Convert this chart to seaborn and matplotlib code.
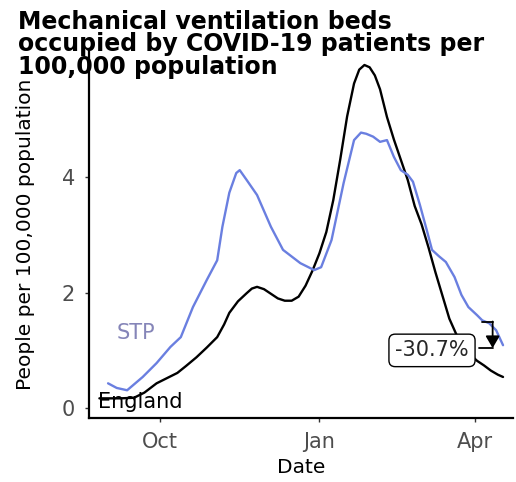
import pandas as pd
import matplotlib.pyplot as plt
import matplotlib.dates as mdates
import seaborn as sns

# England, people on mechanical ventilation per 100k
eng_dates = ['2020-08-27', '2020-09-08', '2020-09-16', '2020-09-22', '2020-09-29',
             '2020-10-05', '2020-10-11', '2020-10-16', '2020-10-22', '2020-10-28',
             '2020-11-03', '2020-11-07', '2020-11-10', '2020-11-15', '2020-11-20',
             '2020-11-23', '2020-11-26', '2020-11-30', '2020-12-04', '2020-12-08',
             '2020-12-12', '2020-12-16', '2020-12-20', '2020-12-24', '2020-12-28',
             '2021-01-01', '2021-01-05', '2021-01-09', '2021-01-13', '2021-01-17',
             '2021-01-21', '2021-01-24', '2021-01-27', '2021-01-30', '2021-02-02',
             '2021-02-05', '2021-02-09', '2021-02-13', '2021-02-17', '2021-02-21',
             '2021-02-25', '2021-03-01', '2021-03-05', '2021-03-09', '2021-03-13',
             '2021-03-17', '2021-03-21', '2021-03-25', '2021-03-29', '2021-04-02',
             '2021-04-06', '2021-04-10', '2021-04-14', '2021-04-17']
eng_values = [0.17, 0.17, 0.18, 0.27, 0.43,
              0.52, 0.61, 0.73, 0.88, 1.05,
              1.23, 1.45, 1.65, 1.85, 1.99,
              2.07, 2.10, 2.06, 1.98, 1.90,
              1.86, 1.86, 1.93, 2.12, 2.38,
              2.68, 3.05, 3.60, 4.30, 5.05,
              5.62, 5.86, 5.94, 5.90, 5.76,
              5.52, 5.04, 4.65, 4.30, 3.95,
              3.50, 3.18, 2.78, 2.35, 1.95,
              1.55, 1.28, 1.08, 0.93, 0.82,
              0.74, 0.65, 0.58, 0.54]

# STP series
stp_dates = ['2020-09-01', '2020-09-06', '2020-09-12', '2020-09-21', '2020-09-29',
             '2020-10-07', '2020-10-13', '2020-10-20', '2020-10-28', '2020-11-03',
             '2020-11-06', '2020-11-10', '2020-11-14', '2020-11-16', '2020-11-20',
             '2020-11-26', '2020-12-04', '2020-12-11', '2020-12-21', '2020-12-29',
             '2021-01-02', '2021-01-08', '2021-01-15', '2021-01-21', '2021-01-25',
             '2021-01-28', '2021-02-01', '2021-02-05', '2021-02-09', '2021-02-13',
             '2021-02-17', '2021-02-21', '2021-02-24', '2021-02-28', '2021-03-04',
             '2021-03-07', '2021-03-11', '2021-03-15', '2021-03-20', '2021-03-24',
             '2021-03-28', '2021-04-02', '2021-04-05', '2021-04-09', '2021-04-13',
             '2021-04-17']
stp_values = [0.43, 0.35, 0.31, 0.54, 0.78,
              1.06, 1.23, 1.75, 2.22, 2.56,
              3.14, 3.73, 4.07, 4.12, 3.95,
              3.69, 3.14, 2.74, 2.51, 2.39,
              2.44, 2.91, 3.90, 4.64, 4.77,
              4.75, 4.70, 4.61, 4.64, 4.35,
              4.12, 4.04, 3.92, 3.52, 3.08,
              2.74, 2.63, 2.53, 2.27, 1.96,
              1.75, 1.61, 1.52, 1.47, 1.35,
              1.09]

# week-on-week change marker
change_from_date = '2021-04-05'
change_to_date = '2021-04-11'
change_start = 1.50
change_end = 1.04
change_label = '-30.7%'

df = pd.concat([
    pd.DataFrame({'date': pd.to_datetime(eng_dates), 'value': eng_values, 'area': 'England'}),
    pd.DataFrame({'date': pd.to_datetime(stp_dates), 'value': stp_values, 'area': 'STP'}),
])

sns.set_theme(style='white')
plt.rcParams['font.family'] = ['DejaVu Sans']

fig = plt.figure(figsize=(5.16, 4.82), dpi=100)
ax = fig.add_axes([0.1725, 0.1328, 0.8225, 0.7635])

sns.lineplot(data=df, x='date', y='value', hue='area',
             palette={'England': 'black', 'STP': '#6A7FE0'},
             linewidth=1.7, legend=False, ax=ax)

ax.set_xlim(pd.Timestamp('2020-08-21'), pd.Timestamp('2021-04-23'))
ax.set_ylim(-0.17, 6.2)
ax.set_yticks([0, 2, 4])
ax.xaxis.set_major_locator(mdates.MonthLocator(bymonth=[1, 4, 10]))
ax.xaxis.set_major_formatter(mdates.DateFormatter('%b'))

for s in ['top', 'right']:
    ax.spines[s].set_visible(False)
for s in ['left', 'bottom']:
    ax.spines[s].set_color('black')
    ax.spines[s].set_linewidth(1.6)
ax.tick_params(axis='both', length=3, width=1, color='#333333',
               labelsize=15, labelcolor='#4D4D4D', pad=7, bottom=True, left=True)

ax.set_xlabel('Date', fontsize=14.5, color='black')
ax.set_ylabel('People per 100,000 population', fontsize=14.5, color='black')
ax.xaxis.set_label_coords(0.5, -0.11)
ax.yaxis.set_label_coords(-0.127, 0.5)

# series labels
ax.text(pd.Timestamp('2020-09-17'), 1.3, 'STP', color='#8585B8', fontsize=15,
        ha='center', va='center')
ax.text(pd.Timestamp('2020-08-26'), 0.1, 'England', color='black', fontsize=15,
        ha='left', va='center')

# change arrow and label
x0 = pd.Timestamp(change_from_date)
x1 = pd.Timestamp(change_to_date)
ax.plot([x0, x1], [change_start, change_start], color='black', lw=1.3)
ax.annotate('', xy=(x1, change_end), xytext=(x1, change_start),
            arrowprops=dict(arrowstyle='-|>,head_width=0.35,head_length=0.6',
                            color='black', lw=1.3, shrinkA=0, shrinkB=0))
ax.plot([pd.Timestamp('2021-04-03'), x1], [change_end, change_end], color='black', lw=1.3)
ax.text(pd.Timestamp('2021-03-07'), 1.0, change_label, fontsize=15, ha='center', va='center',
        bbox=dict(boxstyle='round,pad=0.3,rounding_size=0.3', fc='white', ec='black', lw=1))

fig.text(0.035, 0.98, 'Mechanical ventilation beds\noccupied by COVID-19 patients per\n100,000 population',
         fontsize=17, fontweight='bold', color='black', ha='left', va='top', linespacing=0.94)

fig.savefig('out.png', dpi=100)
